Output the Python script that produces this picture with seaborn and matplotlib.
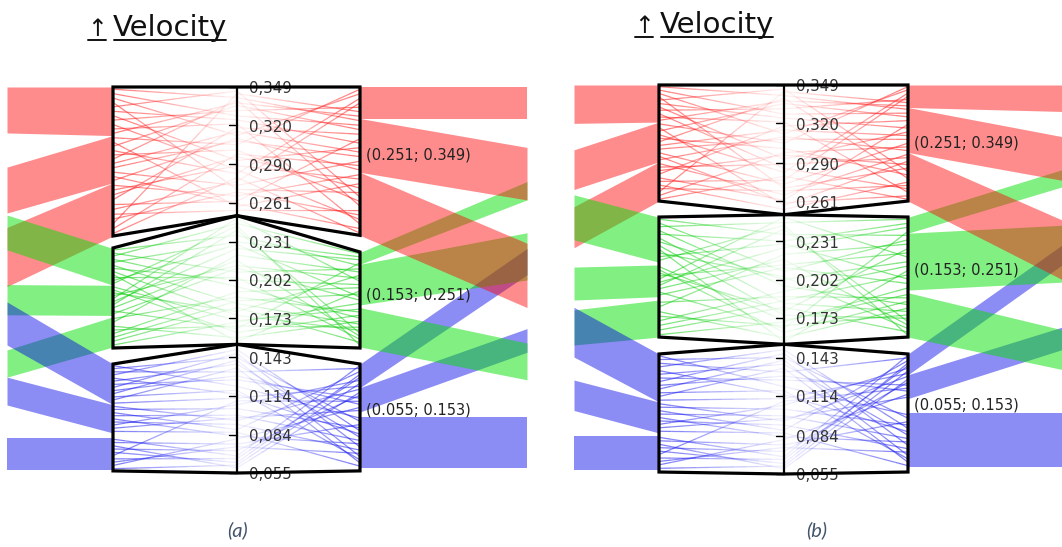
import numpy as np
import matplotlib
matplotlib.use("Agg")
import matplotlib.pyplot as plt
from matplotlib.collections import LineCollection
from matplotlib.patches import Polygon
from matplotlib.lines import Line2D
from matplotlib.colors import to_rgb
import seaborn as sns

sns.set_theme(style="white")
plt.rcParams['font.family'] = ['DejaVu Sans']

# velocity axis: categories (top to bottom) and ticks
cat_labels = ["(0.251; 0.349)", "(0.153; 0.251)", "(0.055; 0.153)"]
cat_ranges = [(0.251, 0.349), (0.153, 0.251), (0.055, 0.153)]
tick_vals = [0.349, 0.320, 0.290, 0.261, 0.231, 0.202, 0.173, 0.143, 0.114, 0.084, 0.055]
tick_text = ["0,349", "0,320", "0,290", "0,261", "0,231", "0,202", "0,173", "0,143", "0,114", "0,084", "0,055"]

# records per category: velocity, band on the left, band on the right
vel_red = [0.341, 0.266, 0.305, 0.289, 0.327, 0.258, 0.312, 0.296, 0.335, 0.271, 0.318,
           0.283, 0.346, 0.262, 0.301, 0.324, 0.277, 0.339, 0.293, 0.255, 0.315, 0.331,
           0.269, 0.308, 0.286, 0.344, 0.274, 0.321, 0.298, 0.260, 0.337, 0.280, 0.310]
left_red = [0, 2, 1, 2, 0, 1, 0, 2, 1, 0, 2, 1, 0, 2, 1, 0, 2, 1, 0, 2, 1, 0, 2, 1, 0, 2, 1, 0, 2, 1, 0, 2, 1]
right_red = [1, 2, 0, 2, 1, 2, 0, 2, 1, 2, 1, 0, 2, 1, 2, 1, 0, 2, 1, 2, 1, 0, 2, 1, 2, 0, 1, 2, 1, 2, 0, 2, 1]

vel_green = [0.236, 0.171, 0.208, 0.189, 0.245, 0.162, 0.221, 0.197, 0.178, 0.231, 0.158,
             0.213, 0.184, 0.249, 0.167, 0.202, 0.226, 0.175, 0.193, 0.240, 0.155, 0.217,
             0.186, 0.204, 0.165, 0.229, 0.181, 0.211, 0.243, 0.170]
left_green = [0, 1, 0, 2, 0, 1, 2, 0, 1, 0, 2, 1, 0, 1, 2, 0, 1, 0, 2, 1, 0, 1, 2, 0, 1, 0, 2, 1, 0, 2]
right_green = [1, 2, 1, 2, 0, 2, 1, 2, 1, 0, 2, 1, 2, 1, 2, 1, 0, 2, 1, 2, 1, 2, 1, 2, 0, 1, 2, 1, 2, 1]

vel_blue = [0.121, 0.068, 0.143, 0.095, 0.077, 0.132, 0.104, 0.059, 0.149, 0.088, 0.115,
            0.072, 0.138, 0.099, 0.063, 0.126, 0.083, 0.110, 0.146, 0.066, 0.092, 0.129,
            0.075, 0.107, 0.141, 0.081, 0.118, 0.061, 0.135, 0.097, 0.086, 0.112]
left_blue = [0, 2, 0, 1, 2, 0, 1, 2, 0, 1, 0, 2, 0, 1, 2, 0, 1, 2, 0, 2, 1, 0, 2, 1, 0, 2, 0, 2, 0, 1, 1, 0]
right_blue = [2, 0, 2, 1, 2, 0, 2, 1, 2, 0, 2, 1, 2, 2, 0, 1, 2, 1, 2, 0, 2, 1, 2, 0, 2, 1, 2, 0, 2, 1, 2, 0]

# ribbons: (outer_lo, outer_hi, inner_lo, inner_hi) in velocity units
a_left_red = [(0.314, 0.349, 0.312, 0.349), (0.253, 0.288, 0.276, 0.312), (0.197, 0.242, 0.2355, 0.276)]
a_left_green = [(0.225, 0.2515, 0.198, 0.226), (0.1755, 0.1985, 0.175, 0.198), (0.128, 0.1487, 0.151, 0.174)]
a_left_blue = [(0.1525, 0.1853, 0.107, 0.138), (0.1068, 0.128, 0.0855, 0.107), (0.057, 0.082, 0.057, 0.082)]
a_right_red = [(0.325, 0.349, 0.325, 0.349), (0.263, 0.303, 0.284, 0.325), (0.181, 0.230, 0.236, 0.284)]
a_right_green = [(0.263, 0.277, 0.214, 0.223), (0.202, 0.238, 0.183, 0.214), (0.126, 0.154, 0.151, 0.181)]
a_right_blue = [(0.206, 0.226, 0.120, 0.138), (0.147, 0.165, 0.1015, 0.120), (0.059, 0.098, 0.059, 0.098)]

b_left_red = [(0.320, 0.349, 0.321, 0.349), (0.270, 0.300, 0.291, 0.321), (0.226, 0.257, 0.2613, 0.291)]
b_left_green = [(0.232, 0.266, 0.215, 0.249), (0.1865, 0.2114, 0.189, 0.213), (0.1525, 0.179, 0.1585, 0.1865)]
b_left_blue = [(0.1434, 0.181, 0.1094, 0.1457), (0.103, 0.126, 0.086, 0.1094), (0.058, 0.084, 0.058, 0.084)]
b_right_red = [(0.329, 0.349, 0.332, 0.349), (0.277, 0.310, 0.298, 0.332), (0.202, 0.247, 0.2613, 0.298)]
b_right_green = [(0.272, 0.285, 0.237, 0.249), (0.200, 0.243, 0.194, 0.237), (0.134, 0.164, 0.1585, 0.192)]
b_right_blue = [(0.213, 0.228, 0.130, 0.1457), (0.149, 0.166, 0.112, 0.130), (0.060, 0.101, 0.060, 0.101)]

# box side extents (lo, hi) for red, green, blue
a_box_left = [(0.2355, 0.349), (0.1502, 0.2264), (0.0566, 0.138)]
a_box_right = [(0.236, 0.349), (0.1502, 0.2233), (0.0566, 0.138)]
b_box_left = [(0.2613, 0.349), (0.1585, 0.2492), (0.0565, 0.1457)]
b_box_right = [(0.2613, 0.349), (0.1585, 0.2492), (0.0565, 0.1457)]

RIB_COLORS = [("#ff0000", 0.45), ("#00e000", 0.49), ("#0000e9", 0.45)]
LINE_COLORS = ["#ff2020", "#10d010", "#2020f0"]

W, H = 1062, 547
fig = plt.figure(figsize=(W / 100, H / 100), dpi=100)
fig.patch.set_facecolor("white")


def slot_positions(groups, bands):
    # spread records evenly inside the inner end of their band
    groups = list(groups)
    out = []
    for i, g in enumerate(groups):
        n = groups.count(g)
        j = groups[:i].count(g)
        lo, hi = bands[g][2], bands[g][3]
        out.append(hi - (j + 0.5) / n * (hi - lo))
    return out


def fade_lines(ax, x_edge, y_edge, x_c, y_c, color, n=10, a_edge=0.6, a_mid=0.05):
    rgb = to_rgb(color)
    segs, cols = [], []
    t = np.linspace(0, 1, n + 1)
    for y0, y1 in zip(y_edge, y_c):
        px = x_edge + (x_c - x_edge) * t
        py = y0 + (y1 - y0) * t
        for k in range(n):
            segs.append([(px[k], py[k]), (px[k + 1], py[k + 1])])
            a = a_edge + (a_mid - a_edge) * (k + 0.5) / n
            cols.append((*rgb, a))
    ax.add_collection(LineCollection(segs, colors=cols, linewidths=0.9, zorder=2))


def draw_panel(xs, y_px, left_bands, right_bands, box_l, box_r, label_y):
    x_out_l, x_box_l, x_c, x_box_r, x_out_r = xs
    top, bot = y_px
    ax = fig.add_axes([x_out_l / W, 1 - bot / H, (x_out_r - x_out_l) / W, (bot - top) / H])
    ax.set_xlim(x_out_l, x_out_r)
    ax.set_ylim(0.055, 0.349)
    ax.set_axis_off()

    # ribbons on the left (red, green, blue on top) and right (blue, green, red on top)
    for bands, (col, al) in zip(left_bands, RIB_COLORS):
        for olo, ohi, ilo, ihi in bands:
            ax.fill_between([x_out_l, x_box_l], [olo, ilo], [ohi, ihi], color=col, alpha=al,
                            lw=0, clip_on=False, zorder=1)
    for bands, (col, al) in list(zip(right_bands, RIB_COLORS))[::-1]:
        for olo, ohi, ilo, ihi in bands:
            ax.fill_between([x_box_r, x_out_r], [ilo, olo], [ihi, ohi], color=col, alpha=al,
                            lw=0, clip_on=False, zorder=1)

    # record lines inside the boxes
    recs = [(vel_red, left_red, right_red), (vel_green, left_green, right_green),
            (vel_blue, left_blue, right_blue)]
    for c, (vel, lg, rg) in enumerate(recs):
        yl = slot_positions(lg, left_bands[c])
        yr = slot_positions(rg, right_bands[c])
        fade_lines(ax, x_box_l, yl, x_c, vel, LINE_COLORS[c])
        fade_lines(ax, x_box_r, yr, x_c, vel, LINE_COLORS[c])

    # box outlines
    for c in range(3):
        (ll, lh), (rl, rh), (cl, ch) = box_l[c], box_r[c], cat_ranges[c]
        poly = Polygon([(x_box_l, lh), (x_c, ch), (x_box_r, rh), (x_box_r, rl), (x_c, cl), (x_box_l, ll)],
                       closed=True, fill=False, edgecolor="black", lw=2.3, joinstyle="miter",
                       zorder=4, clip_on=False)
        ax.add_patch(poly)
        ax.text(x_box_r + 6, label_y[c], cat_labels[c], ha="left", va="center",
                fontsize=10.5, color="#222222", zorder=5)

    # central axis with ticks
    sns.lineplot(x=[x_c, x_c], y=[0.055, 0.349], estimator=None, sort=False,
                 color="black", lw=1.6, ax=ax, zorder=5)
    for v, s in zip(tick_vals, tick_text):
        ax.plot([x_c - 8, x_c], [v, v], color="black", lw=1.0, zorder=5, clip_on=False)
        ax.text(x_c + 12, v - 0.0015, s, ha="left", va="center", fontsize=10.8,
                color="#333333", zorder=3)
    ax.set_xlim(x_out_l, x_out_r)
    ax.set_ylim(0.055, 0.349)
    return ax


draw_panel((7, 113, 237, 360, 527), (87, 473),
           [a_left_red, a_left_green, a_left_blue], [a_right_red, a_right_green, a_right_blue],
           a_box_left, a_box_right, [0.297, 0.1906, 0.103])
draw_panel((574, 659, 784, 908, 1062), (85, 474),
           [b_left_red, b_left_green, b_left_blue], [b_right_red, b_right_green, b_right_blue],
           b_box_left, b_box_right, [0.305, 0.209, 0.107])

# titles: arrow and word underlined separately
renderer = fig.canvas.get_renderer()
for x_arrow, x_word, base in [(87, 113, 36), (634, 660, 33)]:
    for x, s, fs in [(x_arrow, "\u2191", 17), (x_word, "Velocity", 21)]:
        t = fig.text(x / W, 1 - base / H, s, ha="left", va="baseline", fontsize=fs,
                     color="#111111", family=["DejaVu Sans"])
        bb = t.get_window_extent(renderer)
        y_line = (H - base - 4) / H
        fig.add_artist(Line2D([(bb.x0 + 1) / W, (bb.x1 - 1) / W], [y_line, y_line],
                              color="#111111", lw=1.4))

# captions
for x, s in [(238, "(a)"), (817, "(b)")]:
    fig.text(x / W, 1 - 530 / H, s, ha="center", va="center", fontsize=14.5, style="italic",
             color="#44546a", family=["Lato", "DejaVu Sans"])

fig.savefig("out.png", dpi=100, facecolor="white")
